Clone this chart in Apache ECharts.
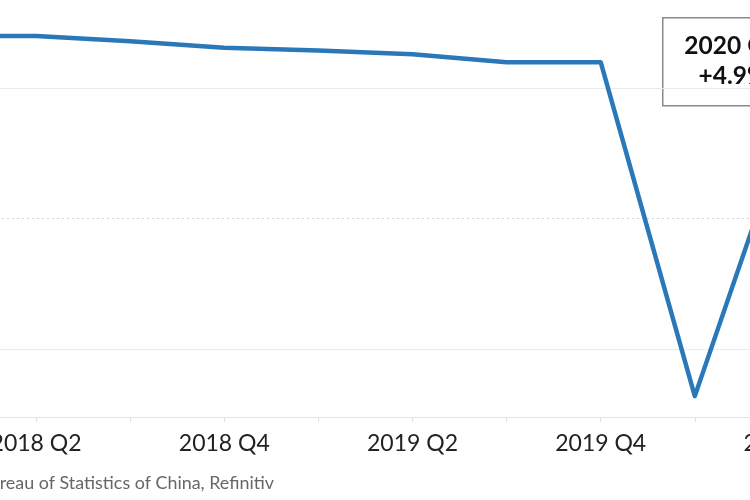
<!DOCTYPE html>
<html>
<head>
<meta charset="utf-8">
<script src="https://cdn.jsdelivr.net/npm/echarts@6/dist/echarts.min.js"></script>
<style>
html,body{margin:0;padding:0;background:#fff;}
#chart{width:750px;height:500px;}
</style>
</head>
<body>
<div id="chart"></div>
<script>
// Data (China GDP, y/y %)
const quarters = ['2018 Q1','2018 Q2','2018 Q3','2018 Q4','2019 Q1','2019 Q2','2019 Q3','2019 Q4','2020 Q1','2020 Q2','2020 Q3'];
const gdpGrowth = [7.0, 7.0, 6.8, 6.55, 6.45, 6.3, 6.0, 6.0, -6.8, 3.7, 4.9];
const gridLevels = [5, -5];
const zeroLevel = 0;
const annotationTitle = '2020 Q3';
const annotationValue = '+4.9%';
const sourceText = 'Source: National Bureau of Statistics of China, Refinitiv';

const chart = echarts.init(document.getElementById('chart'));
const FONT = 'Lato';
chart.setOption({
  animation: false,
  backgroundColor: '#ffffff',
  grid: { left: -58, right: -133, top: 10, bottom: 83, outerBoundsMode: 'none', containLabel: false },
  xAxis: {
    type: 'category',
    data: quarters,
    boundaryGap: false,
    axisLine: { show: true, onZero: false, lineStyle: { color: '#e3e3e3', width: 1 } },
    axisTick: { show: true, interval: 0, length: 5, lineStyle: { color: '#e3e3e3' } },
    axisLabel: {
      interval: function (i) { return i % 2 === 1; },
      color: '#222', fontSize: 23, fontFamily: FONT, margin: 15
    },
    splitLine: { show: false }
  },
  yAxis: {
    type: 'value',
    min: -7.6, max: 8,
    axisLine: { show: false }, axisTick: { show: false }, axisLabel: { show: false },
    splitLine: { show: false }
  },
  series: [{
    type: 'line',
    data: gdpGrowth,
    showSymbol: false,
    symbol: 'none',
    lineStyle: { color: '#2a78b8', width: 4.5, join: 'round', cap: 'round' },
    markLine: {
      silent: true,
      symbol: 'none',
      label: { show: false },
      data: gridLevels.map(v => ({ yAxis: v, lineStyle: { color: '#ebebeb', width: 1, type: 'solid' } }))
        .concat([{ yAxis: zeroLevel, lineStyle: { color: '#d2d2d2', width: 1.2, type: [2, 3] } }])
    },
    z: 5
  }],
  graphic: [
    {
      type: 'group', left: 662, top: 17, z: 20,
      children: [
        { type: 'rect', shape: { x: 0, y: 0, width: 140, height: 88 },
          style: { fill: '#ffffff', stroke: '#8a8a8a', lineWidth: 1.5 } },
        { type: 'text', x: 70, y: 16, style: { text: annotationTitle, fill: '#111', font: 'bold 24.5px ' + FONT, textAlign: 'center' } },
        { type: 'text', x: 70, y: 46, style: { text: annotationValue, fill: '#111', font: 'bold 24.5px ' + FONT, textAlign: 'center' } }
      ]
    },
    {
      type: 'text', right: 476, top: 474,
      style: { text: sourceText, fill: '#666', font: '17.9px ' + FONT }
    }
  ]
});
</script>
</body>
</html>
